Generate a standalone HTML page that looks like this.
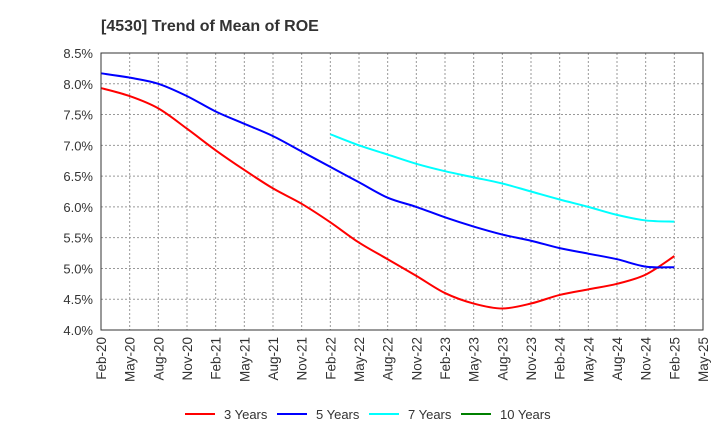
<!DOCTYPE html>
<html><head><meta charset="utf-8"><style>
body{margin:0;background:#fff;font-family:"Liberation Sans",sans-serif}
</style></head><body>
<svg id="c" width="720" height="440" xmlns="http://www.w3.org/2000/svg">
<text x="101" y="31" font-size="16" font-weight="bold" fill="#333">[4530]  Trend of Mean of ROE</text>
<g id="grid"></g><g id="series"></g><g id="axes"></g><g id="legend"></g>
</svg>
<script>
const xLabels=["Feb-20","May-20","Aug-20","Nov-20","Feb-21","May-21","Aug-21","Nov-21","Feb-22","May-22","Aug-22","Nov-22","Feb-23","May-23","Aug-23","Nov-23","Feb-24","May-24","Aug-24","Nov-24","Feb-25","May-25"];
const yTicks=[4.0,4.5,5.0,5.5,6.0,6.5,7.0,7.5,8.0,8.5];
const s3=[7.93,7.80,7.60,7.27,6.92,6.60,6.30,6.05,5.75,5.42,5.15,4.88,4.60,4.43,4.35,4.43,4.57,4.66,4.75,4.90,5.20];
const s5=[8.17,8.10,8.00,7.80,7.55,7.35,7.15,6.90,6.65,6.40,6.15,6.00,5.83,5.68,5.55,5.45,5.33,5.24,5.15,5.03,5.02];
const s7=[null,null,null,null,null,null,null,null,7.18,7.00,6.85,6.70,6.58,6.48,6.38,6.25,6.12,6.00,5.87,5.78,5.76];
const s10=[];
const L=101,R=703,T=53,B=330;
const X=i=>L+i*(R-L)/(xLabels.length-1);
const Y=v=>B-(v-4.0)/(8.5-4.0)*(B-T);
const NS="http://www.w3.org/2000/svg";
function mk(tag,attrs,parent){const e=document.createElementNS(NS,tag);for(const k in attrs)e.setAttribute(k,attrs[k]);parent.appendChild(e);return e;}
const grid=document.getElementById('grid'),axes=document.getElementById('axes'),ser=document.getElementById('series'),leg=document.getElementById('legend');
yTicks.forEach(v=>{
 const l=mk('line',{x1:L,x2:R,y1:Y(v),y2:Y(v),stroke:'#999','stroke-dasharray':'2,2','stroke-width':1},grid);
 
 
 const t=mk('text',{x:L-8,y:Y(v)+5,'text-anchor':'end','font-size':13,fill:'#333'},axes);
 t.textContent=v.toFixed(1)+'%';
 
 
});
xLabels.forEach((lb,i)=>{
 const l=mk('line',{x1:X(i),x2:X(i),y1:T,y2:B,stroke:'#999','stroke-dasharray':'2,2','stroke-width':1},grid);
 
 
 const t=mk('text',{x:0,y:0,'text-anchor':'end','font-size':13.5,fill:'#333',transform:`translate(${X(i)+5},${B+7}) rotate(-90)`},axes);
 t.textContent=lb;
 
 
});
const fr=mk('rect',{x:L,y:T,width:R-L,height:B-T,fill:'none',stroke:'#333','stroke-width':1},axes);


function path(arr){let d='',pts=[];arr.forEach((v,i)=>{if(v!=null)pts.push([X(i),Y(v)]);});
 if(!pts.length)return '';
 d='M'+pts[0][0]+','+pts[0][1];
 for(let i=0;i<pts.length-1;i++){const p0=pts[i-1]||pts[i],p1=pts[i],p2=pts[i+1],p3=pts[i+2]||p2;
  d+=` C${p1[0]+(p2[0]-p0[0])/6},${p1[1]+(p2[1]-p0[1])/6} ${p2[0]-(p3[0]-p1[0])/6},${p2[1]-(p3[1]-p1[1])/6} ${p2[0]},${p2[1]}`;}
 return d;}
const series=[[s3,'#ff0000','3 Years','series-3-years'],[s5,'#0000ff','5 Years','series-5-years'],[s7,'#00ffff','7 Years','series-7-years'],[s10,'#008000','10 Years','series-10-years']];
series.forEach(([a,c,n,dn])=>{const d=path(a);if(d){const p=mk('path',{d:d,fill:'none',stroke:c,'stroke-width':2},ser);
 
 }});
const lx=[185,277,369,461];
series.forEach(([a,c,n],i)=>{
 const g=mk('g',{},leg);
 
 
 mk('line',{x1:lx[i],x2:lx[i]+30,y1:414,y2:414,stroke:c,'stroke-width':2},g);
 const t=mk('text',{x:lx[i]+39,y:419,'font-size':13,fill:'#333'},g);t.textContent=n;
});
</script>
</body></html>
